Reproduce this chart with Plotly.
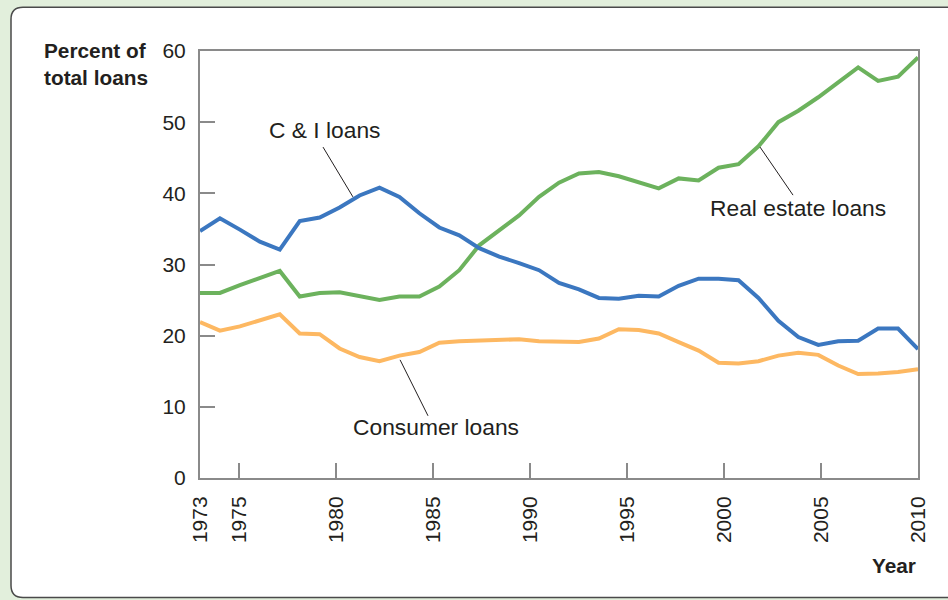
import numpy as np
import plotly.graph_objects as go

# Observations: 37 evenly spaced observations spanning 1973-2010
obs_years = np.linspace(1973, 2010, 37)

ci_loans = [34.7, 36.5, 34.9, 33.2, 32.1, 36.1, 36.6, 38.0, 39.7, 40.8, 39.5, 37.2, 35.2,
            34.1, 32.3, 31.1, 30.2, 29.2, 27.4, 26.5, 25.3, 25.2, 25.6, 25.5, 27.0,
            28.0, 28.0, 27.8, 25.3, 22.1, 19.8, 18.7, 19.2, 19.3, 21.0, 21.0, 18.1]

real_estate_loans = [26.0, 26.0, 27.1, 28.1, 29.1, 25.5, 26.0, 26.1, 25.6, 25.0, 25.5, 25.5, 26.9,
                     29.2, 32.7, 34.8, 36.9, 39.5, 41.5, 42.8, 43.0, 42.4, 41.6, 40.7, 42.1,
                     41.8, 43.6, 44.1, 46.6, 50.0, 51.6, 53.5, 55.6, 57.7, 55.8, 56.4, 59.1]

consumer_loans = [21.9, 20.7, 21.3, 22.1, 23.0, 20.3, 20.2, 18.2, 17.0, 16.4, 17.2, 17.7, 19.0,
                  19.2, 19.3, 19.5, 19.5, 19.2, 19.2, 19.1, 19.6, 20.9, 20.8, 20.3, 19.1,
                  17.9, 16.2, 16.1, 16.4, 17.2, 17.6, 17.3, 15.8, 14.6, 14.7, 14.9, 15.3]

x_tickvals = [1973, 1975, 1980, 1985, 1990, 1995, 2000, 2005, 2010]
y_tickvals = [0, 10, 20, 30, 40, 50, 60]

BLUE = "#3b77c0"
GREEN = "#6cb25d"
ORANGE = "#fdb862"
TEXT = "#231f20"
AXIS = "#8a8a8a"
FONT = "Liberation Sans, Arial, Helvetica, sans-serif"

fig = go.Figure()
for vals, col in [(consumer_loans, ORANGE), (real_estate_loans, GREEN), (ci_loans, BLUE)]:
    fig.add_trace(go.Scatter(x=obs_years, y=vals, mode="lines",
                             line=dict(color=col, width=4), showlegend=False,
                             hoverinfo="skip"))

# plot-area pixel geometry helpers for the card shape
L, R, T, B = 200, 918, 50.7, 478.3
def px(xp):
    return (xp - L) / (R - L)
def py(yp):
    return (B - yp) / (B - T)

rx = 12 / (R - L)
ry = 12 / (B - T)
x0, x1 = px(11), px(1300)
y0, y1 = py(598), py(7)
card_path = (f"M {x0+rx},{y1} L {x1},{y1} L {x1},{y0} L {x0+rx},{y0} "
             f"Q {x0},{y0} {x0},{y0+ry} L {x0},{y1-ry} Q {x0},{y1} {x0+rx},{y1} Z")

shapes = [
    dict(type="path", path=card_path, xref="paper", yref="paper",
         fillcolor="white", line=dict(color="#4a4a4a", width=1.5), layer="below"),
    # leader lines
    dict(type="line", xref="x", yref="y", x0=1979.34, y0=46.5, x1=1980.88, y1=39.5,
         line=dict(color=TEXT, width=1)),
    dict(type="line", xref="x", yref="y", x0=2001.86, y0=46.5, x1=2003.56, y1=39.75,
         line=dict(color=TEXT, width=1)),
    dict(type="line", xref="x", yref="y", x0=1983.31, y0=16.6, x1=1984.75, y1=8.74,
         line=dict(color=TEXT, width=1)),
]

ANN = 22.8
annotations = [
    dict(text="C &amp; I loans", x=1979.44, y=48.87, xref="x", yref="y", showarrow=False,
         font=dict(size=ANN, color=TEXT, family=FONT), xanchor="center", yanchor="middle"),
    dict(text="Real estate loans", x=2003.82, y=37.95, xref="x", yref="y", showarrow=False,
         font=dict(size=ANN, color=TEXT, family=FONT), xanchor="center", yanchor="middle"),
    dict(text="Consumer loans", x=1985.16, y=7.2, xref="x", yref="y", showarrow=False,
         font=dict(size=ANN, color=TEXT, family=FONT), xanchor="center", yanchor="middle"),
    dict(text="<b>Percent of<br>total loans</b>", x=px(150), y=py(37), xref="paper", yref="paper",
         showarrow=False, xanchor="right", yanchor="top", align="left",
         font=dict(size=20.8, color=TEXT, family=FONT)),
    dict(text="<b>Year</b>", x=px(918), y=py(566), xref="paper", yref="paper",
         showarrow=False, xanchor="right", yanchor="middle",
         font=dict(size=20.8, color=TEXT, family=FONT)),
]

fig.update_layout(
    width=948, height=600,
    margin=dict(l=L, r=948 - R, t=T, b=600 - B),
    paper_bgcolor="#e2efdc",
    plot_bgcolor="white",
    font=dict(family=FONT, color=TEXT, size=21),
    shapes=shapes,
    annotations=annotations,
    xaxis=dict(range=[1973, 2010], tickmode="array", tickvals=x_tickvals,
               ticktext=[str(v) for v in x_tickvals], tickangle=-90,
               showline=True, linecolor=AXIS, linewidth=2, mirror=True,
               ticks="inside", ticklen=15, tickwidth=2, tickcolor=AXIS,
               showgrid=False, zeroline=False, ticklabelstandoff=8,
               tickfont=dict(size=21, color=TEXT)),
    yaxis=dict(range=[0, 60], tickmode="array", tickvals=y_tickvals,
               showline=True, linecolor=AXIS, linewidth=2, mirror=True,
               ticks="inside", ticklen=15, tickwidth=2, tickcolor=AXIS,
               showgrid=False, zeroline=False, ticklabelstandoff=8,
               tickfont=dict(size=21, color=TEXT)),
)

fig.write_html("out.html", config={"displayModeBar": False, "staticPlot": True},
               post_script="document.body.style.margin='0';document.body.style.overflow='hidden';")
